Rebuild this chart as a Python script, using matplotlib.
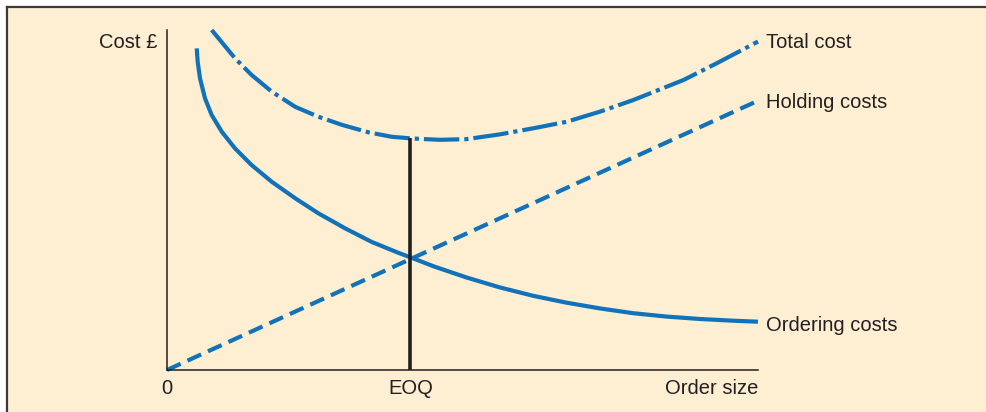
# eoq_chart.py
# -*- coding: utf-8 -*-
"""
EOQ（経済的発注量）の概念図
・発注費（Ordering）、保管費（Holding）、総費用（Total）の3本
・EOQ の位置に縦線
"""

import matplotlib.pyplot as plt
from matplotlib.lines import Line2D

# ----------------------------
# data (order size 0-100, cost 0-100)
# ----------------------------
ordering_q = [5.03, 5.19, 5.58, 6.43, 7.56, 9.26, 11.5, 14.3, 17.7, 21.7,
              25.6, 30.1, 34.6, 39.1, 41.4, 45.1, 50.7, 56.3, 62.0, 67.6,
              73.3, 78.9, 84.6, 90.2, 95.8, 100.0]
ordering_cost = [94.6, 90.7, 85.8, 79.9, 75.0, 70.1, 65.2, 60.3, 55.4, 50.5,
                 46.1, 41.7, 37.7, 34.5, 33.0, 30.5, 27.2, 24.3, 21.8, 19.8,
                 18.1, 16.7, 15.7, 15.0, 14.5, 14.2]

holding_q = [0.0, 100.0]
holding_cost = [0.0, 79.2]

total_q = [7.56, 11.5, 14.3, 17.7, 21.7, 25.6, 29.6, 34.1, 38.0, 41.4, 43.7,
           46.2, 50.7, 56.3, 62.0, 67.6, 73.3, 78.9, 87.4, 93.0, 100.0]
total_cost = [100.0, 91.7, 86.8, 81.9, 77.4, 74.5, 72.1, 69.9, 68.6, 68.1, 67.9,
              67.7, 67.9, 69.3, 71.1, 73.0, 76.0, 79.4, 85.3, 90.2, 96.6]

eoq_q = 41.2
eoq_cost = 68.1

BLUE = "#1172B9"
INK = "#231F20"
BG = "#FEEFD3"

# ----------------------------
# figure
# ----------------------------
W, H = 987, 412
fig = plt.figure(figsize=(W / 100, H / 100), dpi=100, facecolor="white")

# 背景パネル（上・左だけ枠線）
bg = fig.add_axes([7 / W, 0, 1 - 7 / W, 1 - 7 / H], zorder=-1)
bg.set_facecolor(BG)
bg.set_xticks([])
bg.set_yticks([])
for s in bg.spines.values():
    s.set_visible(False)
fig.lines.append(Line2D([6.5 / W, 1], [1 - 6.5 / H, 1 - 6.5 / H],
                        transform=fig.transFigure, color="#3A3A3A", lw=1.6))
fig.lines.append(Line2D([6.5 / W, 6.5 / W], [0, 1 - 6.5 / H],
                        transform=fig.transFigure, color="#3A3A3A", lw=1.6))

ax = fig.add_axes([167 / W, (H - 370) / H, 591 / W, 340 / H], zorder=1)
ax.set_facecolor("none")
ax.set_xlim(0, 100)
ax.set_ylim(0, 100)
for side in ("top", "right"):
    ax.spines[side].set_visible(False)
for side in ("left", "bottom"):
    ax.spines[side].set_color(INK)
    ax.spines[side].set_linewidth(1.1)
ax.set_xticks([])
ax.set_yticks([])

lw = 3.0
ax.plot(ordering_q, ordering_cost, color=BLUE, lw=lw, solid_capstyle="butt",
        solid_joinstyle="round", clip_on=False)
ax.plot(holding_q, holding_cost, color=BLUE, lw=lw, dashes=(3.6, 1.8),
        dash_capstyle="butt", clip_on=False)
ax.plot(total_q, total_cost, color=BLUE, lw=lw, dashes=(8.5, 1.2, 1.0, 1.2),
        dash_capstyle="butt", dash_joinstyle="round", clip_on=False)
ax.plot([eoq_q, eoq_q], [0, eoq_cost], color=INK, lw=2.6, solid_capstyle="butt")

# ----------------------------
# labels
# ----------------------------
font = dict(family=["Liberation Sans", "DejaVu Sans"], fontsize=14.5, color=INK)
ax.text(101.4, total_cost[-1] + 0.2, "Total cost", ha="left", va="center_baseline",
        clip_on=False, **font)
ax.text(101.4, holding_cost[-1], "Holding costs", ha="left", va="center_baseline",
        clip_on=False, **font)
ax.text(101.4, ordering_cost[-1] - 0.4, "Ordering costs", ha="left",
        va="center_baseline", clip_on=False, **font)
ax.text(-1.7, 96.8, "Cost £", ha="right", va="center_baseline", clip_on=False, **font)
ax.text(0, -5, "0", ha="center", va="center_baseline", clip_on=False, **font)
ax.text(eoq_q, -5, "EOQ", ha="center", va="center_baseline", clip_on=False, **font)
ax.text(100, -5, "Order size", ha="right", va="center_baseline", clip_on=False, **font)

fig.savefig("out.png", dpi=100, facecolor=fig.get_facecolor())
